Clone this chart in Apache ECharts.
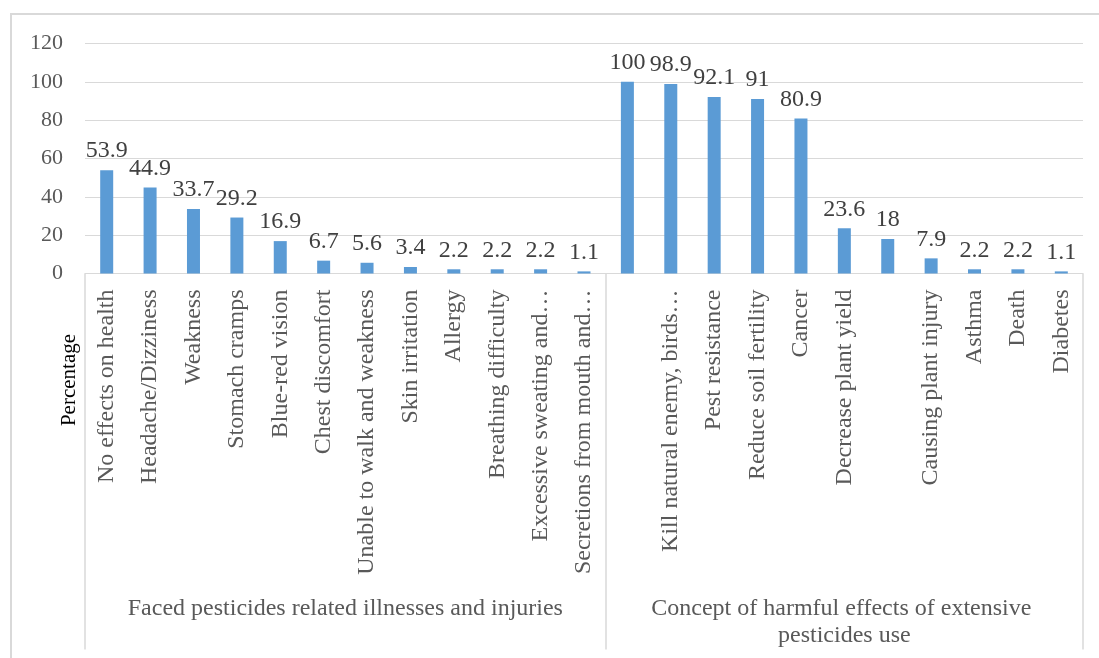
<!DOCTYPE html>
<html>
<head>
<meta charset="utf-8">
<style>
  html, body { margin: 0; padding: 0; background: #ffffff; }
  #chart { width: 1099px; height: 658px; }
</style>
<script src="https://cdn.jsdelivr.net/npm/echarts@6/dist/echarts.min.js"></script>
</head>
<body>
<div id="chart"></div>
<script>
// Survey results, in percent of respondents
const groupNames = [
  'Faced pesticides related illnesses and injuries',
  'Concept of harmful effects of extensive pesticides use'
];
const illnessCategories = [
  'No effects on health', 'Headache/Dizziness', 'Weakness', 'Stomach cramps',
  'Blue-red vision', 'Chest discomfort', 'Unable to walk and weakness',
  'Skin irritation', 'Allergy', 'Breathing difficulty',
  'Excessive sweating and\u2026', 'Secretions from mouth and\u2026'
];
const illnessValues = [53.9, 44.9, 33.7, 29.2, 16.9, 6.7, 5.6, 3.4, 2.2, 2.2, 2.2, 1.1];
const harmCategories = [
  '', 'Kill natural enemy, birds\u2026', 'Pest resistance', 'Reduce soil fertility',
  'Cancer', 'Decrease plant yield', '', 'Causing plant injury',
  'Asthma', 'Death', 'Diabetes'
];
const harmValues = [100, 98.9, 92.1, 91, 80.9, 23.6, 18, 7.9, 2.2, 2.2, 1.1];
const yAxisTitle = 'Percentage';

const categories = illnessCategories.concat(harmCategories);
const values = illnessValues.concat(harmValues);
const nLeft = illnessCategories.length;
const nAll = categories.length;

const FONT = '"Liberation Serif", "Times New Roman", serif';
const GRID_COLOR = '#d9d9d9';

const chart = echarts.init(document.getElementById('chart'), null, { renderer: 'canvas' });

chart.setOption({
  animation: false,
  backgroundColor: '#ffffff',
  grid: { left: 85, right: 16, top: 43.5, height: 230, containLabel: false },
  xAxis: [
    {
      type: 'category',
      data: categories,
      position: 'bottom',
      axisLine: { show: true, lineStyle: { color: GRID_COLOR, width: 1 } },
      axisTick: { show: false },
      axisLabel: {
        interval: 0,
        rotate: 90,
        margin: 16,
        color: '#595959',
        fontFamily: FONT,
        fontSize: 24
      }
    },
    {
      // group level of the category axis: separators and group names
      type: 'value',
      position: 'bottom',
      min: 0,
      max: nAll,
      axisLine: { show: false },
      splitLine: { show: false },
      axisTick: {
        show: true,
        customValues: [0, nLeft, nAll],
        length: 376,
        lineStyle: { color: GRID_COLOR, width: 1.5 }
      },
      axisLabel: {
        customValues: [nLeft / 2, nLeft + (nAll - nLeft) / 2],
        formatter: function (v) { return v < nLeft ? groupNames[0] : groupNames[1]; },
        margin: 322,
        width: 460,
        overflow: 'break',
        lineHeight: 27,
        align: 'center',
        color: '#595959',
        fontFamily: FONT,
        fontSize: 24
      }
    }
  ],
  yAxis: {
    type: 'value',
    min: 0,
    max: 120,
    interval: 20,
    axisLine: { show: false },
    axisTick: { show: false },
    splitLine: { show: true, lineStyle: { color: GRID_COLOR, width: 1 } },
    axisLabel: {
      margin: 22,
      color: '#595959',
      fontFamily: FONT,
      fontSize: 22
    }
  },
  series: [
    {
      type: 'bar',
      xAxisIndex: 0,
      data: values,
      barWidth: 13,
      itemStyle: { color: '#5b9bd5' },
      label: {
        show: true,
        position: 'top',
        distance: 7,
        color: '#404040',
        fontFamily: FONT,
        fontSize: 24
      }
    }
  ],
  graphic: [
    {
      type: 'rect',
      silent: true,
      shape: { x: 11, y: 14, width: 1200, height: 800 },
      style: { fill: 'none', stroke: GRID_COLOR, lineWidth: 2 }
    },
    {
      type: 'text',
      x: 69,
      y: 380,
      rotation: Math.PI / 2,
      style: {
        text: yAxisTitle,
        fill: '#000000',
        font: '21px ' + FONT,
        textAlign: 'center',
        textVerticalAlign: 'middle'
      }
    }
  ]
});
</script>
</body>
</html>
